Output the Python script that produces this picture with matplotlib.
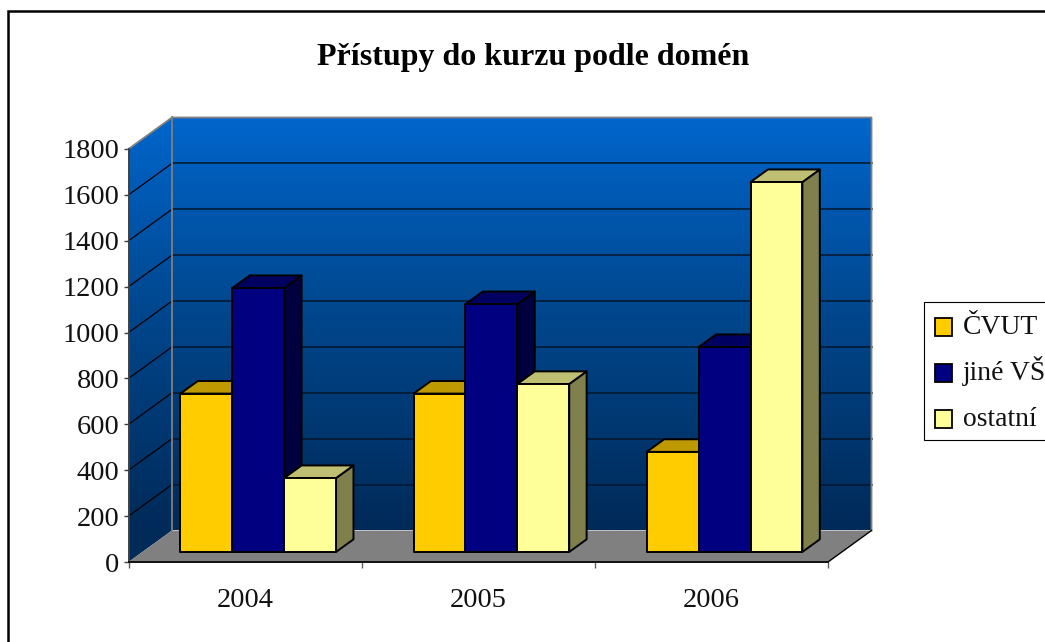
import numpy as np
import matplotlib
matplotlib.use("Agg")
import matplotlib.pyplot as plt
from matplotlib.patches import Polygon, Rectangle
from matplotlib.colors import LinearSegmentedColormap

plt.rcParams['font.family'] = ['Liberation Serif', 'DejaVu Serif']

title = "Přístupy do kurzu podle domén"
years = ["2004", "2005", "2006"]
series_names = ["ČVUT", "jiné VŠ", "ostatní"]
cvut = [690, 690, 436]
jine = [1150, 1080, 893]
ostatni = [322, 732, 1612]
series = [cvut, jine, ostatni]
front_colors = ["#FFCC00", "#000080", "#FFFF99"]
top_colors = ["#BF9900", "#000060", "#BFBF73"]
side_colors = ["#806600", "#000040", "#80804D"]
yticks = list(range(0, 1801, 200))

W, H = 1045, 642
fig = plt.figure(figsize=(W / 100, H / 100), dpi=100, facecolor="white")
L, R, T, B = 128.5, 828.0, 149.0, 562.0
ax = fig.add_axes([L / W, 1 - B / H, (R - L) / W, (B - T) / H])
ax.set_xlim(0, 3)
ax.set_ylim(0, 1800)
ax.patch.set_visible(False)
for s in ("top", "right"):
    ax.spines[s].set_visible(False)
ax.spines["left"].set_color("#404040")
ax.spines["left"].set_linewidth(1.4)
ax.spines["bottom"].set_color("#101010")
ax.spines["bottom"].set_linewidth(1.4)
for s in ax.spines.values():
    s.set_zorder(6)

DX = 43.5 / ((R - L) / 3)
DY = 31.5 / ((B - T) / 1800)


def P(x, v, d):
    return (x + d * DX, v + d * DY)


# walls with a vertical gradient
cmap = LinearSegmentedColormap.from_list("wall", ["#002A58", "#00458A", "#0066CC"])
grad = np.linspace(1, 0, 256).reshape(-1, 1)
top_v = P(0, 1800, 1)[1]
outline = Polygon([P(0, 0, 0), P(0, 1800, 0), P(0, 1800, 1), P(3, 1800, 1), P(3, 0, 1), P(0, 0, 1)],
                  closed=True, transform=ax.transData, facecolor="none", edgecolor="none", clip_on=False)
ax.add_patch(outline)
im = ax.imshow(grad, cmap=cmap, vmin=0, vmax=1, aspect="auto", interpolation="bilinear",
               extent=(0, 3 + DX, DY, top_v), zorder=1)
wall_low = ax.imshow(np.zeros((2, 1)), cmap=cmap, vmin=0, vmax=1, aspect="auto",
                     extent=(0, DX, 0, DY), zorder=1)
for image in (im, wall_low):
    image.set_clip_box(fig.bbox)
    image.set_clip_path(outline)
ax.set_xlim(0, 3)
ax.set_ylim(0, 1800)

# floor
ax.add_patch(Polygon([P(0, 0, 0), P(3, 0, 0), P(3, 0, 1), P(0, 0, 1)], closed=True,
                     facecolor="#808080", edgecolor="none", zorder=2, clip_on=False))

# grid
for v in yticks[1:-1]:
    a, b, c = P(0, v, 0), P(0, v, 1), P(3, v, 1)
    ax.plot([a[0], b[0]], [a[1], b[1]], color="black", lw=0.9, zorder=3, clip_on=False)
    ax.plot([b[0], c[0]], [b[1], c[1]], color="#021830", lw=1.15, zorder=3, clip_on=False)

# wall borders
a, b, c, d = P(0, 1800, 0), P(0, 1800, 1), P(3, 1800, 1), P(3, 0, 1)
e = P(0, 0, 1)
ax.plot([a[0], b[0], c[0], d[0]], [a[1], b[1], c[1], d[1]], color="#808080", lw=1.3, zorder=3, clip_on=False)
ax.plot([b[0], e[0]], [b[1], e[1]], color="#808080", lw=1.3, zorder=3, clip_on=False)
f, g = P(3, 0, 0), P(3, 0, 1)
ax.plot([f[0], g[0]], [f[1], g[1]], color="black", lw=1.0, zorder=3, clip_on=False)

# bars
GAP = 0.163
BW = 0.2225
D0, D1 = 0.32, 0.72
z = 4.0
for i in range(len(years)):
    for j, vals in enumerate(series):
        v = vals[i]
        x0 = i + GAP + j * BW
        x1 = x0 + BW
        kw = dict(closed=True, edgecolor="black", lw=1.4, clip_on=False, joinstyle="round")
        ax.add_patch(Polygon([P(x1, 0, D0), P(x1, 0, D1), P(x1, v, D1), P(x1, v, D0)],
                             facecolor=side_colors[j], zorder=z, **kw))
        ax.add_patch(Polygon([P(x0, v, D0), P(x1, v, D0), P(x1, v, D1), P(x0, v, D1)],
                             facecolor=top_colors[j], zorder=z, **kw))
        ax.add_patch(Polygon([P(x0, 0, D0), P(x1, 0, D0), P(x1, v, D0), P(x0, v, D0)],
                             facecolor=front_colors[j], zorder=z + 0.01, **kw))
        z += 0.02

# ticks
FS = 20.4
ax.set_yticks(yticks)
ax.set_yticklabels([str(t) for t in yticks], fontsize=FS, color="#111111")
ax.tick_params(axis="y", length=3.6, width=1.0, color="#404040", pad=3)
ax.set_xticks([0, 1, 2, 3])
ax.set_xticklabels([])
ax.tick_params(axis="x", which="major", length=4.3, width=1.0, color="#606060")
ax.set_xticks([0.5, 1.5, 2.5], minor=True)
ax.set_xticklabels(years, minor=True, fontsize=FS, color="#111111")
ax.tick_params(axis="x", which="minor", length=0, pad=19)

# title
fig.text(533 / W, 1 - 58 / H, title, ha="center", va="center", fontsize=23, fontweight="bold", color="black")

# legend
def px_rect(x, y, w, h, **kw):
    fig.add_artist(Rectangle((x / W, 1 - (y + h) / H), w / W, h / H, transform=fig.transFigure, **kw))


px_rect(924, 302, 140, 137.5, facecolor="white", edgecolor="black", lw=0.8)
swatch_tops = [318, 364, 410]
for name, color, y in zip(series_names, front_colors, swatch_tops):
    px_rect(934.5, y, 17.5, 18, facecolor=color, edgecolor="black", lw=1.3)
    fig.text(963 / W, 1 - (y + 16) / H, name, ha="left", va="baseline", fontsize=19.9, color="#111111")

# chart frame
px_rect(8.0, 11.0, 1200, 800, facecolor="none", edgecolor="black", lw=1.8)

fig.savefig("out.png", dpi=100, facecolor="white")
